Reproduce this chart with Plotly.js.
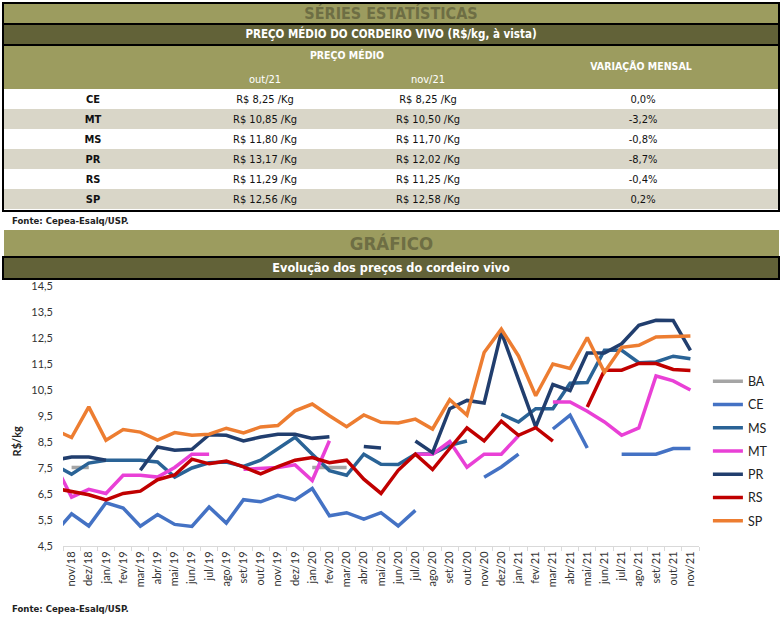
<!DOCTYPE html>
<html><head><meta charset="utf-8">
<script src="https://cdn.plot.ly/plotly-3.0.1.min.js"></script>
<style>
body{margin:0;width:783px;height:621px;background:#fff;position:relative;overflow:hidden;font-family:Lato,'Open Sans',sans-serif;}
.abs{position:absolute;box-sizing:border-box;}
.hd{font-family:'DejaVu Sans Condensed',Lato,sans-serif;font-weight:bold;text-align:center;white-space:nowrap;}
.rg{font-family:'DejaVu Sans Condensed',Lato,sans-serif;text-align:center;white-space:nowrap;}
</style></head><body>
<div class="abs" style="left:2px;top:2px;width:778px;height:210px;border:2px solid #000;"></div>
<div class="abs hd" style="left:4px;top:4px;width:774px;height:19px;background:#9C9C5F;color:#6E6E44;font-size:16px;line-height:20px;">SÉRIES ESTATÍSTICAS</div>
<div class="abs hd" style="left:2px;top:23px;width:778px;height:23px;background:#626238;border:2px solid #000;color:#fff;font-size:11.5px;line-height:19px;">PREÇO MÉDIO DO CORDEIRO VIVO (R$/kg, à vista)</div>
<div class="abs" style="left:4px;top:46px;width:774px;height:43px;background:#9C9C5F;"></div>
<div class="abs hd" style="left:247px;top:49px;width:200px;color:#fff;font-size:10.5px;">PREÇO MÉDIO</div>
<div class="abs hd" style="left:541px;top:60px;width:200px;color:#fff;font-size:10.5px;">VARIAÇÃO MENSAL</div>
<div class="abs rg" id="hcol1" style="left:215px;top:73px;width:100px;color:#fff;font-size:11px;"></div>
<div class="abs rg" id="hcol2" style="left:378px;top:73px;width:100px;color:#fff;font-size:11px;"></div>
<div class="abs" id="tbl" style="left:4px;top:89px;width:774px;height:120px;"></div>
<div class="abs hd" style="left:12px;top:215px;font-size:9.5px;color:#222;text-align:left;">Fonte: Cepea-Esalq/USP.</div>
<div class="abs hd" style="left:4px;top:230px;width:775px;height:27px;background:#9C9C5F;color:#6E6E44;font-size:18.5px;line-height:27px;">GRÁFICO</div>
<div class="abs hd" style="left:2px;top:256px;width:778px;height:24px;background:#626238;border:2px solid #000;color:#fff;font-size:12.6px;line-height:20px;">Evolução dos preços do cordeiro vivo</div>
<div class="abs" id="chart" style="left:0px;top:280px;width:783px;height:325px;"></div>
<div class="abs hd" style="left:12px;top:603px;font-size:9.5px;color:#222;text-align:left;">Fonte: Cepea-Esalq/USP.</div>
<script>
// ---- table data ----
var states = ['CE','MT','MS','PR','RS','SP'];
var price_out21 = [8.25, 10.85, 11.80, 13.17, 11.29, 12.56];
var price_nov21 = [8.25, 10.50, 11.70, 12.02, 11.25, 12.58];
var var_mensal = [0.0, -3.2, -0.8, -8.7, -0.4, 0.2];
var price_cols = ['out/21', 'nov/21'];

// ---- chart data (first category is off-axis, before nov/18) ----
var months = ['out/18','nov/18','dez/18','jan/19','fev/19','mar/19','abr/19','mai/19','jun/19','jul/19','ago/19','set/19','out/19','nov/19','dez/19','jan/20','fev/20','mar/20','abr/20','mai/20','jun/20','jul/20','ago/20','set/20','out/20','nov/20','dez/20','jan/21','fev/21','mar/21','abr/21','mai/21','jun/21','jul/21','ago/21','set/21','out/21','nov/21'];
var BA = [null,7.52,7.52,null,null,null,null,null,null,null,null,null,null,null,null,7.52,7.52,7.52,null,null,null,null,null,null,null,null,null,null,null,null,null,null,null,null,null,null,null,null];
var CE = [4.98,5.74,5.27,6.16,5.96,5.26,5.71,5.33,5.25,6.0,5.38,6.28,6.20,6.45,6.27,6.71,5.66,5.78,5.53,5.78,5.27,5.87,null,null,null,7.14,7.54,8.03,null,9.0,9.53,8.27,null,8.03,8.03,8.03,8.25,8.25];
var MS = [7.62,7.26,7.69,7.80,7.80,7.80,7.73,7.15,7.50,7.70,7.73,7.56,7.80,8.23,8.68,8.03,7.40,7.22,8.03,7.64,7.63,8.03,8.05,8.37,8.54,null,9.57,9.27,9.78,9.78,10.76,10.79,12.03,12.03,11.55,11.58,11.80,11.70];
var MT = [7.68,6.38,6.68,6.52,7.22,7.22,7.15,7.52,8.03,8.03,null,7.45,7.50,7.52,7.62,7.02,8.55,null,null,null,null,8.03,8.03,8.52,7.53,8.03,8.03,8.74,null,10.04,10.04,9.68,9.27,8.76,9.04,11.04,10.85,10.50];
var PR = [7.80,7.92,7.92,7.80,null,7.41,8.31,8.18,8.22,8.78,8.76,8.54,8.69,8.80,8.80,8.64,8.70,null,8.33,8.27,null,8.54,8.09,9.78,10.10,10.0,12.73,10.90,9.08,10.71,10.48,11.92,11.92,12.28,12.99,13.18,13.17,12.02];
var RS = [6.72,6.60,6.47,6.27,6.52,6.61,7.05,7.23,7.84,7.66,7.77,7.54,7.27,7.55,7.80,7.90,7.70,7.80,7.07,6.52,7.41,8.03,7.44,8.25,9.04,8.54,9.30,8.76,9.05,8.53,null,9.85,11.26,11.26,11.52,11.52,11.29,11.25];
var SP = [8.97,8.67,9.85,8.57,8.98,8.88,8.57,8.86,8.76,8.80,9.03,8.85,9.08,9.13,9.70,9.96,9.51,9.09,9.54,9.26,9.23,9.38,9.00,10.13,9.54,11.94,12.84,11.81,10.28,11.50,11.33,12.52,11.18,12.14,12.22,12.54,12.56,12.58];

var seriesNames = ['BA','CE','MS','MT','PR','RS','SP'];
var seriesData = [BA, CE, MS, MT, PR, RS, SP];
var seriesColors = ['#A5A5A5','#4472C4','#2A6396','#E940D6','#213E6E','#C00000','#ED7D31'];

document.getElementById('hcol1').textContent = price_cols[0];
document.getElementById('hcol2').textContent = price_cols[1];

function fmt(v, d){ return v.toFixed(d).replace('.', ','); }

// table as a heatmap: one brick per cell, row shading from parity
var colEdges = [0, 178, 344, 504, 774];
var rowEdges = [0, 1, 2, 3, 4, 5, 6];
var zRows = [], tRows = [];
states.forEach(function(s, i){
  zRows.push([i % 2, i % 2, i % 2, i % 2]);
  tRows.push(['<b>' + s + '</b>',
              'R$ ' + fmt(price_out21[i], 2) + ' /Kg',
              'R$ ' + fmt(price_nov21[i], 2) + ' /Kg',
              fmt(var_mensal[i], 1) + '%']);
});

Plotly.newPlot('tbl', [{
  type: 'heatmap', x: colEdges, y: rowEdges, z: zRows, text: tRows,
  texttemplate: '%{text}', hoverinfo: 'skip',
  colorscale: [[0, '#FFFFFF'], [1, '#D9D6C8']], zmin: 0, zmax: 1, showscale: false,
  textfont: {family: 'DejaVu Sans Condensed, Lato', size: 11, color: '#111'}
}], {
  width: 774, height: 120,
  margin: {l: 0, r: 0, t: 0, b: 0},
  paper_bgcolor: 'rgba(0,0,0,0)', plot_bgcolor: 'rgba(0,0,0,0)',
  xaxis: {range: [0, 774], visible: false, fixedrange: true},
  yaxis: {range: [6, 0], visible: false, fixedrange: true}
}, {staticPlot: true, displayModeBar: false});

var traces = seriesNames.map(function(n, k){
  return {
    type: 'scatter', mode: 'lines', name: n, legendgroup: n,
    x: months, y: seriesData[k],
    line: {color: seriesColors[k], width: 3.5},
    connectgaps: false
  };
});

Plotly.newPlot('chart', traces, {
  width: 783, height: 325,
  margin: {l: 63, r: 84, t: 6, b: 59},
  paper_bgcolor: 'rgba(0,0,0,0)', plot_bgcolor: 'rgba(0,0,0,0)',
  separators: ',.',
  font: {family: 'Lato, Open Sans, sans-serif', size: 11, color: '#333'},
  showlegend: true,
  legend: {x: 1.014, xanchor: 'left', y: 0.69, yanchor: 'top', tracegroupgap: 4,
           font: {size: 12.5, color: '#222'}, bgcolor: 'rgba(0,0,0,0)'},
  xaxis: {type: 'category', categoryorder: 'array', categoryarray: months,
          range: [0.5, 37.5], tickangle: -90, tickson: 'boundaries',
          ticks: 'outside', ticklen: 4, tickcolor: '#D9D9D9',
          showline: true, linecolor: '#D9D9D9', linewidth: 1, showgrid: false,
          tickfont: {size: 11, color: '#333'}},
  yaxis: {range: [4.499, 14.501], tickmode: 'linear', tick0: 4.5, dtick: 1, tickformat: '.1f',
          showgrid: false, zeroline: false, showline: false, ticks: '',
          ticklabeloverflow: 'allow',
          ticklabelstandoff: 9, tickfont: {size: 11, color: '#333'}},
  annotations: [{text: '<b>R$/kg</b>', textangle: -90, xref: 'paper', yref: 'paper',
                 x: -0.085, y: 0.404, showarrow: false, font: {size: 11, color: '#222'}}]
}, {staticPlot: true, displayModeBar: false});
</script>
</body></html>
